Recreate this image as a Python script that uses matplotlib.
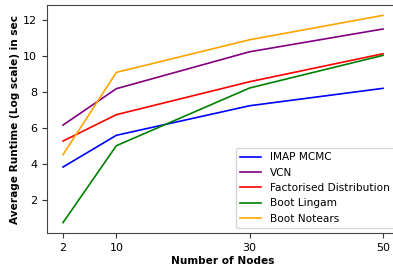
import matplotlib
matplotlib.use("Agg")
import matplotlib.pyplot as plt

nodes = [2, 10, 30, 50]
imap_mcmc = [3.82, 5.59, 7.24, 8.21]
vcn = [6.16, 8.19, 10.25, 11.52]
factorised = [5.27, 6.74, 8.58, 10.14]
boot_lingam = [0.72, 5.01, 8.23, 10.05]
boot_notears = [4.51, 9.10, 10.92, 12.28]

series = [
    ("IMAP MCMC", imap_mcmc, "blue"),
    ("VCN", vcn, "purple"),
    ("Factorised Distribution", factorised, "red"),
    ("Boot Lingam", boot_lingam, "green"),
    ("Boot Notears", boot_notears, "orange"),
]

fig = plt.figure(figsize=(3.93, 2.67), dpi=100)
ax = fig.add_axes([47/393, 34/267, 352/393, 228/267])
for label, vals, color in series:
    ax.plot(nodes, vals, color=color, label=label, linewidth=1.2)

ax.set_xticks(nodes)
ax.set_yticks([2, 4, 6, 8, 10, 12])
ax.tick_params(labelsize=8, color="#333333")
for s in ax.spines.values():
    s.set_color("#444444")
ax.set_xlabel("Number of Nodes", fontsize=7.6, fontweight="bold", labelpad=2)
ax.set_ylabel("Average Runtime (Log scale) in sec", fontsize=7.6, fontweight="bold", labelpad=2)
ax.legend(loc="lower right", fontsize=7.6)

fig.savefig("out.png", dpi=100)
